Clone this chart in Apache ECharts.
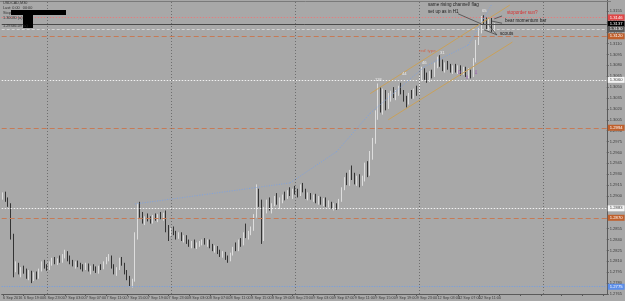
<!DOCTYPE html>
<html><head><meta charset="utf-8">
<script src="https://cdn.jsdelivr.net/npm/echarts@6/dist/echarts.min.js"></script>
<style>html,body{margin:0;padding:0;background:#a8a8a8;}#c{width:625px;height:301px;}</style>
</head><body><div id="c"></div>
<script>
// x-axis tick labels (every 8 M30 bars)
const tickLabels = ['6 Sep 2016','6 Sep 19:00','6 Sep 23:00','7 Sep 03:00','7 Sep 07:00','7 Sep 11:00','7 Sep 15:00','7 Sep 19:00','7 Sep 23:00','8 Sep 03:00','8 Sep 07:00','8 Sep 11:00','8 Sep 15:00','8 Sep 19:00','8 Sep 23:00','9 Sep 03:00','9 Sep 07:00','9 Sep 11:00','9 Sep 15:00','9 Sep 19:00','9 Sep 23:00','12 Sep 03:00','12 Sep 07:00','12 Sep 11:00'];

const open = [1.2900,1.2902,1.2895,1.2888,1.2845,1.2800,1.2805,1.2795,1.2798,1.2796,
1.2790,1.2794,1.2786,1.2792,1.2788,1.2798,1.2806,1.2803,1.2800,1.2808,
1.2812,1.2810,1.2813,1.2810,1.2818,1.2820,1.2812,1.2808,1.2805,1.2808,
1.2804,1.2802,1.2800,1.2805,1.2798,1.2801,1.2799,1.2796,1.2802,1.2800,
1.2808,1.2814,1.2816,1.2803,1.2795,1.2800,1.2812,1.2806,1.2794,1.2786,
1.2780,1.2784,1.2845,1.2878,1.2875,1.2866,1.2870,1.2868,1.2864,1.2872,
1.2868,1.2873,1.2870,1.2875,1.2855,1.2850,1.2852,1.2848,1.2843,1.2847,
1.2840,1.2844,1.2836,1.2833,1.2836,1.2831,1.2834,1.2836,1.2838,1.2835,
1.2837,1.2830,1.2826,1.2829,1.2822,1.2818,1.2821,1.2814,1.2812,1.2820,
1.2828,1.2826,1.2838,1.2834,1.2848,1.2845,1.2850,1.2855,1.2872,1.2905,
1.2890,1.2840,1.2880,1.2892,1.2884,1.2888,1.2896,1.2890,1.2894,1.2900,
1.2898,1.2906,1.2903,1.2908,1.2905,1.2902,1.2912,1.2908,1.2899,1.2901,
1.2897,1.2899,1.2893,1.2896,1.2891,1.2894,1.2888,1.2890,1.2885,1.2887,
1.2884,1.2894,1.2910,1.2922,1.2918,1.2930,1.2926,1.2920,1.2925,1.2916,
1.2924,1.2940,1.2930,1.2958,1.2975,1.3014,1.3045,1.3020,1.3040,1.3025,
1.3038,1.3042,1.3037,1.3044,1.3048,1.3042,1.3033,1.3028,1.3040,1.3036,
1.3045,1.3042,1.3062,1.3072,1.3064,1.3060,1.3068,1.3066,1.3080,1.3086,
1.3082,1.3076,1.3080,1.3077,1.3074,1.3078,1.3072,1.3076,1.3070,1.3074,
1.3068,1.3072,1.3066,1.3086,1.3112,1.3128,1.3144,1.3140,1.3134,1.3140,
1.3130];

const close = [1.2902,1.2895,1.2888,1.2845,1.2800,1.2805,1.2795,1.2798,1.2796,1.2790,
1.2794,1.2786,1.2792,1.2788,1.2798,1.2806,1.2803,1.2800,1.2808,1.2812,
1.2810,1.2813,1.2810,1.2818,1.2820,1.2812,1.2808,1.2805,1.2808,1.2804,
1.2802,1.2800,1.2805,1.2798,1.2801,1.2799,1.2796,1.2802,1.2800,1.2808,
1.2814,1.2816,1.2803,1.2795,1.2800,1.2812,1.2806,1.2794,1.2786,1.2780,
1.2784,1.2845,1.2878,1.2875,1.2866,1.2870,1.2868,1.2864,1.2872,1.2868,
1.2873,1.2870,1.2875,1.2855,1.2850,1.2852,1.2848,1.2843,1.2847,1.2840,
1.2844,1.2836,1.2833,1.2836,1.2831,1.2834,1.2836,1.2838,1.2835,1.2837,
1.2830,1.2826,1.2829,1.2822,1.2818,1.2821,1.2814,1.2812,1.2820,1.2828,
1.2826,1.2838,1.2834,1.2848,1.2845,1.2850,1.2855,1.2872,1.2905,1.2890,
1.2840,1.2880,1.2892,1.2884,1.2888,1.2896,1.2890,1.2894,1.2900,1.2898,
1.2906,1.2903,1.2908,1.2905,1.2902,1.2912,1.2908,1.2899,1.2901,1.2897,
1.2899,1.2893,1.2896,1.2891,1.2894,1.2888,1.2890,1.2885,1.2887,1.2884,
1.2894,1.2910,1.2922,1.2918,1.2930,1.2926,1.2920,1.2925,1.2916,1.2924,
1.2940,1.2930,1.2958,1.2975,1.3014,1.3045,1.3020,1.3040,1.3025,1.3038,
1.3042,1.3037,1.3044,1.3048,1.3042,1.3033,1.3028,1.3040,1.3036,1.3045,
1.3042,1.3062,1.3072,1.3064,1.3060,1.3068,1.3066,1.3080,1.3086,1.3082,
1.3076,1.3080,1.3077,1.3074,1.3078,1.3072,1.3076,1.3070,1.3074,1.3068,
1.3072,1.3066,1.3086,1.3112,1.3128,1.3144,1.3140,1.3134,1.3140,1.3130,
1.3137];

const high = [1.2905,1.2906,1.2898,1.2890,1.2848,1.2810,1.2808,1.2802,1.2804,1.2800,
1.2798,1.2797,1.2795,1.2796,1.2800,1.2810,1.2812,1.2806,1.2810,1.2815,
1.2816,1.2814,1.2818,1.2820,1.2826,1.2824,1.2818,1.2812,1.2810,1.2811,
1.2808,1.2806,1.2808,1.2807,1.2804,1.2806,1.2803,1.2804,1.2806,1.2810,
1.2816,1.2820,1.2818,1.2806,1.2802,1.2815,1.2816,1.2808,1.2798,1.2790,
1.2786,1.2850,1.2890,1.2892,1.2878,1.2872,1.2876,1.2872,1.2874,1.2876,
1.2875,1.2878,1.2877,1.2880,1.2860,1.2856,1.2858,1.2852,1.2850,1.2850,
1.2846,1.2846,1.2840,1.2838,1.2840,1.2836,1.2838,1.2840,1.2842,1.2840,
1.2840,1.2834,1.2832,1.2831,1.2826,1.2824,1.2823,1.2818,1.2822,1.2830,
1.2836,1.2840,1.2842,1.2850,1.2862,1.2852,1.2858,1.2875,1.2916,1.2910,
1.2895,1.2885,1.2895,1.2898,1.2890,1.2900,1.2904,1.2898,1.2902,1.2906,
1.2908,1.2912,1.2910,1.2914,1.2910,1.2916,1.2918,1.2910,1.2905,1.2904,
1.2902,1.2903,1.2900,1.2899,1.2897,1.2898,1.2894,1.2892,1.2890,1.2890,
1.2896,1.2912,1.2926,1.2932,1.2936,1.2942,1.2932,1.2928,1.2930,1.2928,
1.2946,1.2948,1.2962,1.2980,1.3018,1.3055,1.3050,1.3048,1.3046,1.3042,
1.3045,1.3050,1.3046,1.3052,1.3056,1.3046,1.3038,1.3042,1.3046,1.3048,
1.3052,1.3066,1.3078,1.3076,1.3070,1.3072,1.3074,1.3084,1.3092,1.3094,
1.3088,1.3084,1.3086,1.3082,1.3080,1.3082,1.3080,1.3080,1.3078,1.3078,
1.3076,1.3074,1.3090,1.3115,1.3132,1.3148,1.3149,1.3146,1.3144,1.3146,
1.3138];

const low = [1.2895,1.2892,1.2885,1.2840,1.2788,1.2795,1.2792,1.2788,1.2793,1.2786,
1.2784,1.2780,1.2783,1.2785,1.2786,1.2796,1.2800,1.2797,1.2798,1.2804,
1.2806,1.2805,1.2808,1.2808,1.2814,1.2810,1.2806,1.2803,1.2800,1.2802,
1.2799,1.2796,1.2798,1.2796,1.2792,1.2797,1.2794,1.2793,1.2798,1.2799,
1.2806,1.2810,1.2800,1.2792,1.2790,1.2798,1.2804,1.2792,1.2784,1.2776,
1.2774,1.2782,1.2840,1.2870,1.2862,1.2860,1.2865,1.2862,1.2862,1.2866,
1.2864,1.2868,1.2866,1.2850,1.2838,1.2845,1.2846,1.2840,1.2841,1.2838,
1.2836,1.2834,1.2830,1.2828,1.2828,1.2827,1.2830,1.2832,1.2833,1.2830,
1.2828,1.2824,1.2822,1.2820,1.2816,1.2815,1.2812,1.2808,1.2810,1.2818,
1.2824,1.2824,1.2830,1.2832,1.2842,1.2840,1.2846,1.2852,1.2870,1.2885,
1.2834,1.2838,1.2876,1.2880,1.2876,1.2886,1.2888,1.2882,1.2890,1.2894,
1.2896,1.2900,1.2896,1.2902,1.2898,1.2900,1.2905,1.2896,1.2894,1.2895,
1.2892,1.2890,1.2888,1.2888,1.2886,1.2885,1.2884,1.2882,1.2880,1.2881,
1.2883,1.2892,1.2908,1.2915,1.2914,1.2922,1.2916,1.2914,1.2912,1.2914,
1.2920,1.2926,1.2928,1.2950,1.2972,1.3005,1.3015,1.3012,1.3018,1.3020,
1.3030,1.3035,1.3032,1.3038,1.3040,1.3030,1.3022,1.3026,1.3034,1.3034,
1.3038,1.3040,1.3058,1.3060,1.3056,1.3057,1.3062,1.3064,1.3076,1.3078,
1.3072,1.3070,1.3074,1.3070,1.3068,1.3070,1.3068,1.3066,1.3067,1.3064,
1.3062,1.3062,1.3064,1.3084,1.3108,1.3124,1.3136,1.3130,1.3128,1.3126,
1.3126];

// horizontal price levels drawn on the chart
const levelValues = [1.3146, 1.3137, 1.3130, 1.3120, 1.3060, 1.2994, 1.2883, 1.2870, 1.2775];
const levelStyles = [
  {c:'#e08080', t:[1.5,1.5], bg:'#e04848', fg:'#ffffff'},
  {c:'#4a4a4a', t:'solid',   bg:'#000000', fg:'#ffffff'},
  {c:'#d4d4d4', t:[3,2],     bg:'#5a5a5a', fg:'#ffffff'},
  {c:'#c67a56', t:[5,3],     bg:'#c0602c', fg:'#ffffff'},
  {c:'#f2f2f2', t:[1.5,1.5], bg:'#f4f4f4', fg:'#444444'},
  {c:'#c67a56', t:[5,3],     bg:'#c0602c', fg:'#ffffff'},
  {c:'#f2f2f2', t:[1.5,1.5], bg:'#f4f4f4', fg:'#444444'},
  {c:'#c67a56', t:[5,3],     bg:'#c0602c', fg:'#ffffff'},
  {c:'#6f9ce8', t:[1,1.5],   bg:'#5c8eea', fg:'#ffffff'}
];
// day separators (bar index)
const separators = [17, 65, 113, 161, 209];
// trend lines [barIndex, price]
const channelUpper = [[142.0, 1.3041], [195.6, 1.3163]];
const channelLower = [[148.9, 1.3005], [196.7, 1.3112]];
const blueCurve = [[51.2,1.2889],[76.1,1.2901],[110.6,1.2918],[128.6,1.2961],[142.4,1.3014],[163.0,1.3078],[180.3,1.3108],[189.1,1.3164]];
const pointerLines = [
  [[176.4,1.3151],[184.5,1.3137]],
  [[193.3,1.3148],[189.5,1.3144]],
  [[192.5,1.3138],[189.4,1.3141]],
  [[190.6,1.3122],[187.9,1.3135]],
  [[190.6,1.3122],[186.0,1.3129]]
];

const N = 234;
const cats = Array.from({length: N}, (_, i) => String(i));
const candles = open.map((o, i) => [o, close[i], low[i], high[i]]);

const FONT = 'Liberation Sans';
const ml = [];
levelValues.forEach((v, k) => {
  const s = levelStyles[k];
  ml.push({yAxis: v, lineStyle: {color: s.c, type: s.t, width: 1},
    label: {show: true, position: 'end', distance: 1, formatter: v.toFixed(4), fontSize: 4.2, fontFamily: FONT,
      color: s.fg, backgroundColor: s.bg, padding: [1, 2, 1, 2]}});
});
separators.forEach(x => ml.push({xAxis: x, lineStyle: {color: '#6e6e6e', type: [1, 2], width: 1}, label: {show: false}}));
function seg(a, b, color, type, width) {
  return [{coord: a, lineStyle: {color: color, type: type, width: width}, label: {show: false}}, {coord: b}];
}
ml.push(seg(channelUpper[0], channelUpper[1], '#c9a15a', 'solid', 1));
ml.push(seg(channelLower[0], channelLower[1], '#c9a15a', 'solid', 1));
for (let k = 0; k < blueCurve.length - 1; k++) ml.push(seg(blueCurve[k], blueCurve[k+1], '#7ea2e0', [1, 1.5], 1));
pointerLines.forEach(p => ml.push(seg(p[0], p[1], '#3a3a3a', 'solid', 0.7)));

function txt(x, y, s, color, size) {
  return {type: 'text', left: x, top: y, z: 100, style: {text: s, fill: color, fontSize: size || 4.5, fontFamily: FONT}};
}

const chart = echarts.init(document.getElementById('c'), null, {renderer: 'canvas'});
chart.setOption({
  animation: false,
  backgroundColor: '#a8a8a8',
  grid: {left: 0, right: 14, top: -2, bottom: 7},
  xAxis: {
    type: 'category', data: cats, boundaryGap: true,
    axisLine: {show: true, lineStyle: {color: '#5a5a5a', width: 1}},
    axisTick: {show: true, interval: 7, length: 2, alignWithLabel: true, lineStyle: {color: '#5a5a5a'}},
    axisLabel: {interval: 7, align: 'left', margin: 2, fontSize: 3.8, fontFamily: FONT, color: '#3c3c3c',
      formatter: (v, idx) => (idx % 8 === 0 && idx / 8 < tickLabels.length) ? tickLabels[idx / 8] : ''},
    splitLine: {show: false}
  },
  yAxis: {
    type: 'value', position: 'right', min: 1.2765, max: 1.3170, interval: 0.0015, scale: true,
    axisLine: {show: true, lineStyle: {color: '#5a5a5a', width: 1}},
    axisTick: {show: true, length: 2, lineStyle: {color: '#5a5a5a'}},
    axisLabel: {margin: 3, fontSize: 4, fontFamily: FONT, color: '#3c3c3c', showMaxLabel: false,
      formatter: v => v.toFixed(4)},
    splitLine: {show: false}
  },
  series: [{
    type: 'candlestick', data: candles, barWidth: 1.2,
    itemStyle: {color: '#f4f4f4', color0: '#000000', borderColor: '#f4f4f4', borderColor0: '#000000', borderWidth: 0.7},
    markLine: {silent: true, precision: 4, symbol: ['none', 'none'], animation: false, data: ml}
  }],
  graphic: [
    {type: 'line', z: 50, shape: {x1: 0, y1: 1.5, x2: 611, y2: 1.5}, style: {stroke: '#7a7a7a', lineWidth: 1}},
    txt(3, 1, 'USDCAD,M30', '#333', 3.8),
    txt(3, 6, 'Last: 0.00   00:00', '#333', 3.8),
    txt(3, 11, 'Stop', '#333', 3.8),
    txt(3, 15.5, '1.30030 (a)', '#333', 3.8),
    txt(3, 23.5, '1.29346.09 (a)', '#333', 3.8),
    {type: 'rect', z: 60, shape: {x: 11, y: 10, width: 55, height: 5}, style: {fill: '#000'}},
    {type: 'rect', z: 60, shape: {x: 23, y: 15, width: 10, height: 13}, style: {fill: '#000'}},
    txt(428, 2, 'same rising channel/ flag', '#1e1e1e', 4.6),
    txt(428, 9, 'set up as in H1', '#1e1e1e', 4.6),
    txt(482, 9, '65', '#eeeeee', 4.2),
    txt(507, 10.5, 'stoporder sun?', '#d83030', 4.6),
    txt(505, 18.5, 'bear momentum bar', '#1e1e1e', 4.6),
    txt(500, 31, 'scouts', '#1e1e1e', 4.6),
    txt(419, 49, "red' type", '#d0664a', 4.4),
    txt(375, 78, '118', '#eeeeee', 4.2),
    txt(402, 72, '44', '#eeeeee', 4.2),
    txt(422, 61, '46', '#eeeeee', 4.2),
    txt(440, 51, '31', '#eeeeee', 4.2),
    txt(458, 70, '0', '#9a4fb8', 5),
    txt(465, 75, '⇧', '#9a4fb8', 5),
    txt(474, 70, '⇩', '#9a4fb8', 5)
  ]
});
</script>
</body></html>
